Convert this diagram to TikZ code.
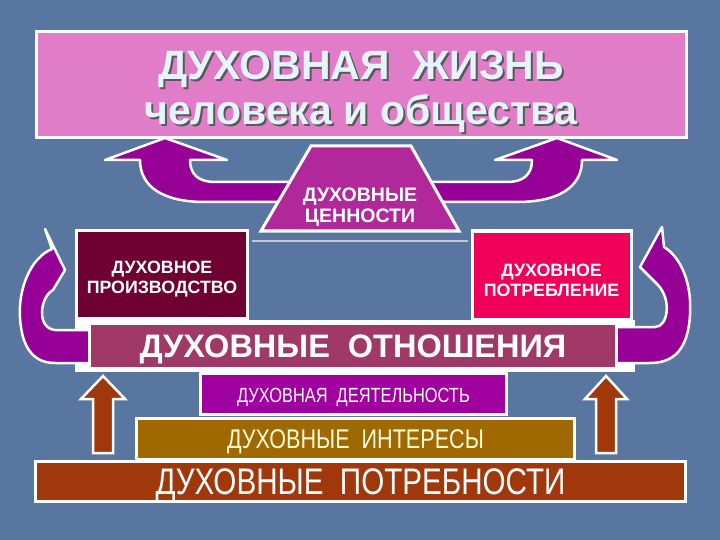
\documentclass[tikz,border=0pt]{standalone}
\usepackage{fontspec}
\setmainfont{Liberation Sans}
\newfontfamily\narrowfont{Liberation Sans}[FakeStretch=0.8]
\usepackage{xcolor}
\definecolor{bgblue}{RGB}{88, 118, 160}
\definecolor{lifepink}{RGB}{224, 124, 200}
\definecolor{valuepurple}{RGB}{176, 40, 154}
\definecolor{arrowpurple}{RGB}{150, 0, 150}
\definecolor{prodmaroon}{RGB}{110, 0, 50}
\definecolor{consred}{RGB}{240, 0, 88}
\definecolor{relmauve}{RGB}{160, 56, 104}
\definecolor{actviolet}{RGB}{160, 0, 160}
\definecolor{intgold}{RGB}{160, 104, 0}
\definecolor{needrust}{RGB}{160, 56, 12}
\definecolor{titlelight}{RGB}{228, 244, 250}
\newcommand{\shadowtext}[1]{\makebox[0pt][l]{\kern2pt\raisebox{-2pt}{\color{black!65}#1}}#1}
\usetikzlibrary{positioning}

\begin{document}
\begin{tikzpicture}[
  x=1pt, y=-1pt,
  every node/.style={align=center, inner sep=0pt},
  box/.style={draw=white, line width=3pt},
  label/.style={text=white, font=\bfseries\fontsize{17.8}{20}\selectfont},
  band/.style={draw=white, line width=3.5pt},
  bigarrow/.style={fill=arrowpurple, draw=white, line width=2.5pt, line join=round},
  uparrow/.style={fill=needrust, draw=white, line width=2.5pt}
]

% background
\fill[bgblue] (0,0) rectangle (720,540);
\useasboundingbox (0,0) rectangle (720,540);

% arrows up to the title box
\path[bigarrow] (292,182) -- (215,182) .. controls (198,182) and (190,174) .. (190,160)
  -- (227,160) -- (165,138) -- (105,160) -- (140,160)
  .. controls (140,188) and (165,202) .. (205,202) -- (292,202) -- cycle;
\path[bigarrow] (430,182) -- (507,182) .. controls (524,182) and (532,174) .. (532,160)
  -- (495,160) -- (557,138) -- (617,160) -- (582,160)
  .. controls (582,188) and (557,202) .. (517,202) -- (430,202) -- cycle;

% title
\node[box, fill=lifepink, minimum width=650, minimum height=106] (life) at (361,85) {};
\node[text=titlelight, font=\bfseries\fontsize{41}{45}\selectfont] (title)
  at ([shift={(0,8)}]life.center) {\shadowtext{ДУХОВНАЯ\ \ ЖИЗНЬ}\\\shadowtext{человека и общества}};

% values
\draw[white, line width=3pt, fill=valuepurple, line join=miter]
  (311,146) -- (411,146) -- (459,231) -- (261,231) -- cycle;
\draw[white, opacity=0.6, line width=1.5pt] (252,241) -- (468,241);
\node[label, font=\bfseries\fontsize{19.5}{21}\selectfont] (values) at (360,207) {ДУХОВНЫЕ\\ЦЕННОСТИ};

% production and consumption
\node[box, fill=prodmaroon, minimum width=171, minimum height=88] (prod) at (162,274.5) {};
\node[label] (prodtext) at ([yshift=-5pt]prod.center) {ДУХОВНОЕ\\ПРОИЗВОДСТВО};
\node[box, fill=consred, minimum width=159, minimum height=88] (cons) at (551.5,275) {};
\node[label] (constext) at ([yshift=-5pt]cons.center) {ДУХОВНОЕ\\ПОТРЕБЛЕНИЕ};

% relations with the side arrows
\fill[white] (75,320) rectangle (635,372);
\path[bigarrow] (92,330) -- (55,330) .. controls (36,328) and (40,297) .. (53,290)
  -- (65,270) -- (45,229) -- (52,249)
  .. controls (30,258) and (18,290) .. (20,318)
  .. controls (22,350) and (35,363) .. (55,363) -- (92,363) -- cycle;
\path[bigarrow] (614,327) -- (655,327) .. controls (668,327) and (672,300) .. (658,285)
  -- (640,267) -- (662,227) -- (664,247)
  .. controls (682,258) and (692,285) .. (690,315)
  .. controls (688,348) and (675,363) .. (650,363) -- (614,363) -- cycle;
\node[box, fill=relmauve, minimum width=527, minimum height=45] (rel) at (353,346) {};
\node[text=white, font=\bfseries\fontsize{32.5}{34}\selectfont] (reltext)
  at ([yshift=-3.5pt]rel.center) {ДУХОВНЫЕ\ \ ОТНОШЕНИЯ};

% activity, interests, needs
\node[band, fill=actviolet, minimum width=306, minimum height=41] (act) at (353.5,394) {};
\node[text=white, font=\narrowfont\fontsize{20.5}{22}\selectfont] (acttext)
  at ([yshift=-3pt]act.center) {ДУХОВНАЯ\ \ ДЕЯТЕЛЬНОСТЬ};
\node[band, fill=intgold, minimum width=438, minimum height=41] (int) at (355.5,439) {};
\node[text=yellow!15, font=\narrowfont\fontsize{27}{29}\selectfont] (inttext)
  at ([yshift=-3pt]int.center) {ДУХОВНЫЕ\ \ ИНТЕРЕСЫ};
\node[band, fill=needrust, minimum width=650, minimum height=40] (need) at (360.5,481.5) {};
\node[text=white, font=\narrowfont\fontsize{37}{39}\selectfont] (needtext)
  at ([yshift=-4pt]need.center) {ДУХОВНЫЕ\ \ ПОТРЕБНОСТИ};

% arrows from needs up
\path[uparrow] (93,453) -- (93,399) -- (81,399) -- (103,376) -- (125,399) -- (113,399) -- (113,453) -- cycle;
\path[uparrow] (596,453) -- (596,399) -- (585,399) -- (606,376) -- (627,399) -- (616,399) -- (616,453) -- cycle;

\end{tikzpicture}
\end{document}
